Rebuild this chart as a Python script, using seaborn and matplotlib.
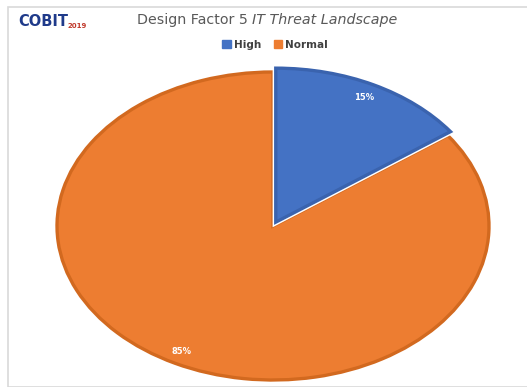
import matplotlib
matplotlib.use("Agg")
import matplotlib.pyplot as plt
import matplotlib.patheffects as pe
from matplotlib.patches import Rectangle, Patch
import seaborn as sns

categories = ["High", "Normal"]
shares = [15, 85]
pct_labels = ["15%", "85%"]

sns.set_theme(style="white")
plt.rcParams["font.family"] = ["DejaVu Sans"]

colors = ["#4472C4", "#ED7D31"]
edge_colors = ["#3A63AE", "#D2691F"]

W, H = 527, 387
fig = plt.figure(figsize=(W / 100, H / 100), dpi=100)
fig.patch.set_facecolor("white")

# thin chart-area border
fig.patches.append(Rectangle((8 / W, 0), 1, 1 - 7 / H, transform=fig.transFigure,
                             fill=False, edgecolor="#D9D9D9", linewidth=1.2))

ax = fig.add_axes([0, 0, 1, 1])
wedges, _ = ax.pie(shares, colors=colors, startangle=90, counterclock=False,
                   explode=[0.028, 0], radius=1.0,
                   wedgeprops=dict(linewidth=2.4))
for w, ec in zip(wedges, edge_colors):
    w.set_edgecolor(ec)
wedges[0].set_zorder(3)
wedges[0].set_path_effects([pe.Stroke(linewidth=4.5, foreground="white"), pe.Normal()])

# stretched (elliptical) pie: center at px (273, 226), radii 216 x 154
cx, cy, rx, ry = 273, 226, 216, 154
ax.set_aspect("auto")
ax.set_xlim(-cx / rx, (W - cx) / rx)
ax.set_ylim((cy - H) / ry, cy / ry)
ax.axis("off")

# percentage labels
label_pos = [((364 - cx) / rx, (cy - 97) / ry), ((182 - cx) / rx, (cy - 351) / ry)]
for (x, y), t in zip(label_pos, pct_labels):
    ax.text(x, y, t, ha="center", va="center", color="white",
            fontsize=6, fontweight="bold", zorder=5)

# title
t1 = fig.text(137 / W, 1 - 20 / H, "Design Factor 5 ", ha="left", va="center",
              color="#595959", fontsize=10.3)
ax.annotate("IT Threat Landscape", xy=(1, 0.5), xycoords=t1, ha="left", va="center",
            color="#595959", fontsize=10.3, style="italic")

# logo
logo = fig.text(18 / W, 1 - 21 / H, "COBIT", ha="left", va="center",
                color="#1F3A8A", fontsize=10.5, fontweight="heavy")
ax.annotate("2019", xy=(1, 0.2), xycoords=logo, ha="left", va="center",
            color="#C0392B", fontsize=5, fontweight="bold")

# legend
handles = [Patch(facecolor=c, edgecolor=c) for c in colors]
leg = fig.legend(handles, categories, loc="center", bbox_to_anchor=(275 / W, 1 - 45 / H),
                 ncol=2, frameon=False, handlelength=0.8, handleheight=0.8,
                 handletextpad=0.3, columnspacing=1.2,
                 prop=dict(size=7.5, weight="bold"))
for txt in leg.get_texts():
    txt.set_color("#404040")

fig.savefig("out.png", dpi=100, facecolor="white")
